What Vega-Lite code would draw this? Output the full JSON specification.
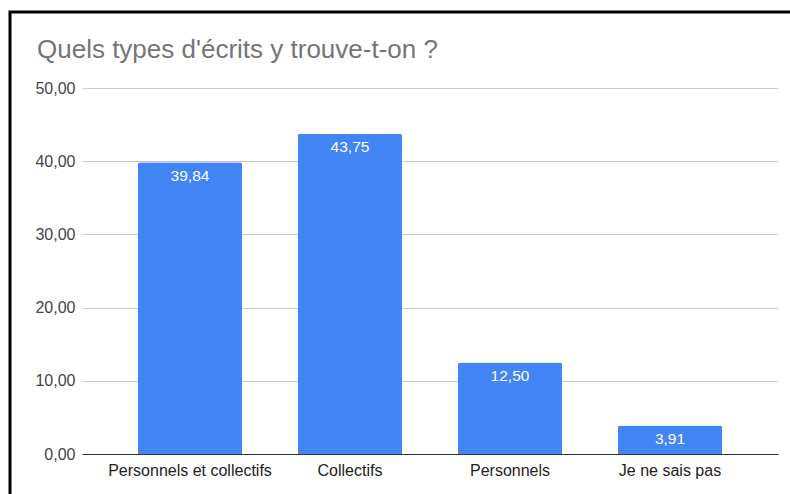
{
  "$schema": "https://vega.github.io/schema/vega-lite/v6.json",
  "width": 800,
  "height": 500,
  "autosize": {"type": "none"},
  "padding": {"left": 10, "top": 12, "right": 0, "bottom": 0},
  "background": "white",
  "title": {
    "text": "Quels types d'écrits y trouve-t-on ?",
    "anchor": "start",
    "frame": "group",
    "orient": "top",
    "offset": 0,
    "baseline": "alphabetic",
    "dx": 27,
    "dy": 72,
    "font": "Liberation Sans",
    "fontSize": 26,
    "fontWeight": "normal",
    "color": "#757575"
  },
  "data": {
    "values": [
      {"type": "Personnels et collectifs", "value": 39.84},
      {"type": "Collectifs", "value": 43.75},
      {"type": "Personnels", "value": 12.5},
      {"type": "Je ne sais pas", "value": 3.91}
    ]
  },
  "encoding": {
    "x": {
      "field": "type",
      "type": "nominal",
      "sort": null,
      "scale": {"range": [72, 768], "paddingInner": 0.35, "paddingOuter": 0.35},
      "axis": {
        "title": null,
        "orient": "bottom",
        "offset": -58,
        "domainColor": "#333333",
        "domainWidth": 1,
        "ticks": false,
        "tickSize": 0,
        "labelPadding": 21,
        "labelBaseline": "alphabetic",
        "labelAngle": 0,
        "labelFont": "Liberation Sans",
        "labelFontSize": 16,
        "labelColor": "#222222",
        "labelLimit": 300,
        "grid": false,
        "zindex": 1
      }
    },
    "y": {
      "field": "value",
      "type": "quantitative",
      "scale": {"domain": [0, 50], "range": [442, 76], "nice": false},
      "axis": {
        "title": null,
        "values": [0, 10, 20, 30, 40, 50],
        "format": ".2f",
        "offset": -72,
        "domain": false,
        "ticks": false,
        "tickSize": 0,
        "labelPadding": 7,
        "labelFont": "Liberation Sans",
        "labelFontSize": 16,
        "labelColor": "#444444",
        "grid": true,
        "gridColor": "#cccccc",
        "gridWidth": 1,
        "zindex": 0
      }
    }
  },
  "layer": [
    {
      "mark": {"type": "bar", "color": "#4285F4", "cornerRadiusTopLeft": 2, "cornerRadiusTopRight": 2}
    },
    {
      "mark": {"type": "text", "baseline": "alphabetic", "dy": 18.6, "color": "white", "fontSize": 15.5, "font": "Liberation Sans"},
      "encoding": {"text": {"field": "value", "type": "quantitative", "format": ".2f"}}
    }
  ],
  "config": {
    "view": {"stroke": "#000000", "strokeWidth": 3},
    "locale": {"number": {"decimal": ",", "thousands": " ", "grouping": [3], "currency": ["", " €"]}}
  }
}
